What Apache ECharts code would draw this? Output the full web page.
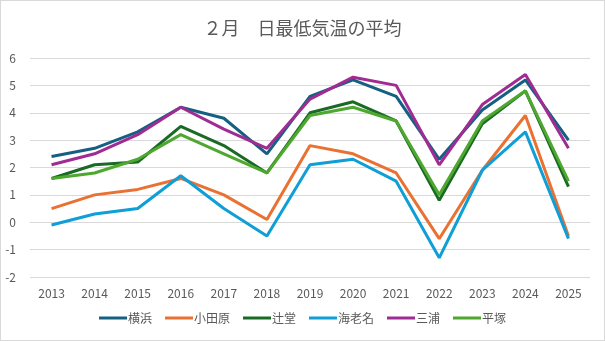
<!DOCTYPE html>
<html><head><meta charset="utf-8">
<script src="https://cdn.jsdelivr.net/npm/echarts@6/dist/echarts.min.js"></script>
<style>html,body{margin:0;padding:0;background:#fff}#c{width:605px;height:341px;box-sizing:border-box;border:1px solid #d9d9d9}</style>
</head><body><div id="c"></div>
<script>
const years = ['2013','2014','2015','2016','2017','2018','2019','2020','2021','2022','2023','2024','2025'];
const yokohama = [2.4,2.7,3.3,4.2,3.8,2.5,4.6,5.2,4.6,2.3,4.1,5.2,3.0];
const odawara  = [0.5,1.0,1.2,1.6,1.0,0.1,2.8,2.5,1.8,-0.6,1.9,3.9,-0.5];
const tsujido  = [1.6,2.1,2.2,3.5,2.8,1.8,4.0,4.4,3.7,0.8,3.6,4.8,1.3];
const ebina    = [-0.1,0.3,0.5,1.7,0.5,-0.5,2.1,2.3,1.5,-1.3,1.9,3.3,-0.6];
const miura    = [2.1,2.5,3.2,4.2,3.4,2.7,4.5,5.3,5.0,2.1,4.3,5.4,2.7];
const hiratsuka= [1.6,1.8,2.3,3.2,2.5,1.8,3.9,4.2,3.7,1.0,3.7,4.8,1.5];
const names = ['横浜','小田原','辻堂','海老名','三浦','平塚'];
const colors = ['#156082','#E97132','#196B24','#0F9ED5','#A02B93','#4EA72E'];
const seriesData = [yokohama,odawara,tsujido,ebina,miura,hiratsuka];
const font = '"Noto Sans CJK JP", "Liberation Sans", sans-serif';
const chart = echarts.init(document.getElementById('c'));
chart.setOption({
  animation:false,
  title:{text:'２月　日最低気温の平均',left:'center',top:13,textStyle:{color:'#595959',fontSize:18,fontWeight:'normal',fontFamily:font}},
  grid:{left:29,right:14,top:57,bottom:63},
  legend:{bottom:11,left:'center',icon:'rect',itemWidth:28,itemHeight:3,itemGap:13,textStyle:{color:'#595959',fontSize:12,fontFamily:font,padding:[0,0,0,-4]},data:names},
  xAxis:{type:'category',data:years,boundaryGap:true,axisTick:{show:false},axisLine:{show:true,lineStyle:{color:'#d9d9d9'}},axisLabel:{color:'#595959',fontSize:12,fontFamily:font,margin:10}},
  yAxis:{type:'value',min:-2,max:6,interval:1,axisLine:{show:false},axisTick:{show:false},splitLine:{lineStyle:{color:'#d9d9d9'}},axisLabel:{color:'#595959',fontSize:12,fontFamily:font,margin:14}},
  series: names.map((n,i)=>({name:n,type:'line',data:seriesData[i],symbol:'none',lineStyle:{width:3,color:colors[i]},itemStyle:{color:colors[i]}}))
});
</script></body></html>
